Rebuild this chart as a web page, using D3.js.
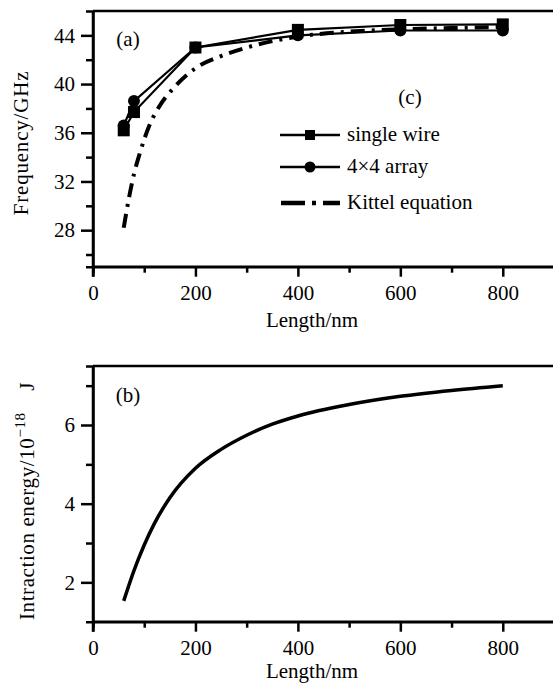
<!DOCTYPE html>
<html><head><meta charset="utf-8">
<script src="https://cdn.jsdelivr.net/npm/d3@7"></script>
<style>
body{margin:0;background:#fff;}
svg text{font-family:"Liberation Serif","DejaVu Serif","Noto Serif",serif !important;fill:#000;}
</style></head>
<body><svg id="c" width="553" height="686"></svg>
<script>
// ---- data ----
const lengthsA = [60, 80, 200, 400, 600, 800];
const singleWire = [36.2, 37.7, 43.0, 44.45, 44.85, 44.9];
const array4x4 = [36.6, 38.6, 43.0, 44.0, 44.4, 44.4];
const kittelLen = [60, 70, 80, 92, 110, 130, 160, 200, 250, 300, 400, 500, 600, 700, 800];
const kittelFreq = [28.2, 30.6, 32.6, 34.4, 36.6, 38.2, 39.8, 41.3, 42.3, 43.0, 43.9, 44.3, 44.5, 44.6, 44.7];
const lengthsB = [60, 80, 100, 120, 150, 200, 250, 300, 350, 400, 500, 600, 700, 800];
const energy = [1.53, 2.3, 2.95, 3.5, 4.15, 4.9, 5.38, 5.74, 6.02, 6.23, 6.52, 6.73, 6.88, 7.0];
const xMajor = [0, 200, 400, 600, 800];
const xMinor = [100, 300, 500, 700];
const yMajorA = [28, 32, 36, 40, 44];
const yMinorA = [26, 30, 34, 38, 42];
const yMajorB = [2, 4, 6];
const yMinorB = [3, 5, 7];
const legendLabels = ["single wire", "4\u00d74 array", "Kittel equation"];

const svg = d3.select("#c");
const FS = 21;

function panel(y0, y1, ydom, yMaj, yMin) {
  const x = d3.scaleLinear().domain([0, 900]).range([93, 554]);
  const y = d3.scaleLinear().domain(ydom).range([y1, y0]);
  const g = svg.append("g");
  g.append("line").attr("x1", 93).attr("x2", 553).attr("y1", y0).attr("y2", y0)
    .attr("stroke", "#000").attr("stroke-width", 2.5);
  const ax = g.append("g").attr("transform", `translate(0,${y1})`)
    .call(d3.axisBottom(x).tickValues(xMajor).tickSize(10).tickPadding(8).tickFormat(d3.format("d")));
  g.append("g").attr("transform", `translate(0,${y1})`)
    .call(d3.axisBottom(x).tickValues(xMinor).tickSize(6).tickFormat(""));
  const ay = g.append("g").attr("transform", `translate(93,0)`)
    .call(d3.axisLeft(y).tickValues(yMaj).tickSize(12).tickPadding(6).tickFormat(d3.format("d")));
  g.append("g").attr("transform", `translate(93,0)`)
    .call(d3.axisLeft(y).tickValues(yMin).tickSize(7).tickFormat(""));
  g.selectAll(".domain").attr("stroke-width", 2.5);
  g.selectAll(".tick line").attr("stroke-width", 2.5);
  g.selectAll(".tick text").attr("font-size", FS);
  ax.select(".domain").attr("d", `M93,0H553`);
  ay.select(".domain").attr("d", `M0,${y0}V${y1 + 10}`);
  return {x, y, g};
}

// ---- panel (a) ----
const A = panel(11, 266.7, [25, 46], yMajorA, yMinorA);
const lineA = d3.line().x(d => A.x(d[0])).y(d => A.y(d[1]));
const sw = lengthsA.map((l, i) => [l, singleWire[i]]);
const ar = lengthsA.map((l, i) => [l, array4x4[i]]);
const kt = kittelLen.map((l, i) => [l, kittelFreq[i]]);
A.g.append("path").datum(kt).attr("fill", "none").attr("stroke", "#000").attr("stroke-width", 4)
  .attr("stroke-dasharray", "14,7,3,7")
  .attr("d", d3.line().x(d => A.x(d[0])).y(d => A.y(d[1])).curve(d3.curveMonotoneX));
A.g.append("path").datum(sw).attr("fill", "none").attr("stroke", "#000").attr("stroke-width", 2.2).attr("d", lineA);
A.g.append("path").datum(ar).attr("fill", "none").attr("stroke", "#000").attr("stroke-width", 2.2).attr("d", lineA);
A.g.selectAll("rect.sq").data(sw).enter().append("rect")
  .attr("x", d => A.x(d[0]) - 6).attr("y", d => A.y(d[1]) - 6).attr("width", 12).attr("height", 12).attr("fill", "#000");
A.g.selectAll("circle.ci").data(ar).enter().append("circle")
  .attr("cx", d => A.x(d[0])).attr("cy", d => A.y(d[1])).attr("r", 6).attr("fill", "#000");

A.g.append("text").attr("x", 128).attr("y", 46).attr("text-anchor", "middle").attr("font-size", FS).text("(a)");
A.g.append("text").attr("x", 410).attr("y", 104).attr("text-anchor", "middle").attr("font-size", FS).text("(c)");

const legY = [135, 167, 203];
const lg = A.g.append("g");
legY.forEach((yy, i) => {
  if (i < 2) {
    lg.append("line").attr("x1", 280).attr("x2", 340).attr("y1", yy).attr("y2", yy).attr("stroke", "#000").attr("stroke-width", 2.5);
    if (i === 0) lg.append("rect").attr("x", 305).attr("y", yy - 5).attr("width", 10).attr("height", 10).attr("fill", "#000");
    else lg.append("circle").attr("cx", 310).attr("cy", yy).attr("r", 5.5).attr("fill", "#000");
  } else {
    lg.append("line").attr("x1", 281).attr("x2", 340).attr("y1", yy).attr("y2", yy).attr("stroke", "#000").attr("stroke-width", 4.5)
      .attr("stroke-dasharray", "24,7,4,7,30");
  }
  lg.append("text").attr("x", 347).attr("y", yy + 6).attr("font-size", FS).text(legendLabels[i]);
});

A.g.append("text").attr("x", 312).attr("y", 327).attr("text-anchor", "middle").attr("font-size", FS).text("Length/nm");
A.g.append("text").attr("transform", "translate(28,143) rotate(-90)").attr("text-anchor", "middle")
  .attr("font-size", FS).attr("letter-spacing", 0.8).text("Frequency/GHz");

// ---- panel (b) ----
const B = panel(366, 621.7, [1, 7.5], yMajorB, yMinorB);
const en = lengthsB.map((l, i) => [l, energy[i]]);
B.g.append("path").datum(en).attr("fill", "none").attr("stroke", "#000").attr("stroke-width", 3.5)
  .attr("d", d3.line().x(d => B.x(d[0])).y(d => B.y(d[1])).curve(d3.curveMonotoneX));
B.g.append("text").attr("x", 128).attr("y", 402).attr("text-anchor", "middle").attr("font-size", FS).text("(b)");
B.g.append("text").attr("x", 312).attr("y", 678).attr("text-anchor", "middle").attr("font-size", FS).text("Length/nm");
const yl = B.g.append("text").attr("transform", "translate(34,501) rotate(-90)").attr("text-anchor", "middle")
  .attr("font-size", FS).attr("letter-spacing", 0.6);
yl.append("tspan").text("Intraction energy/10");
yl.append("tspan").attr("dy", -9).attr("font-size", 15).text("\u221218");
yl.append("tspan").attr("dy", 9).text("\u2003J");
</script></body></html>
